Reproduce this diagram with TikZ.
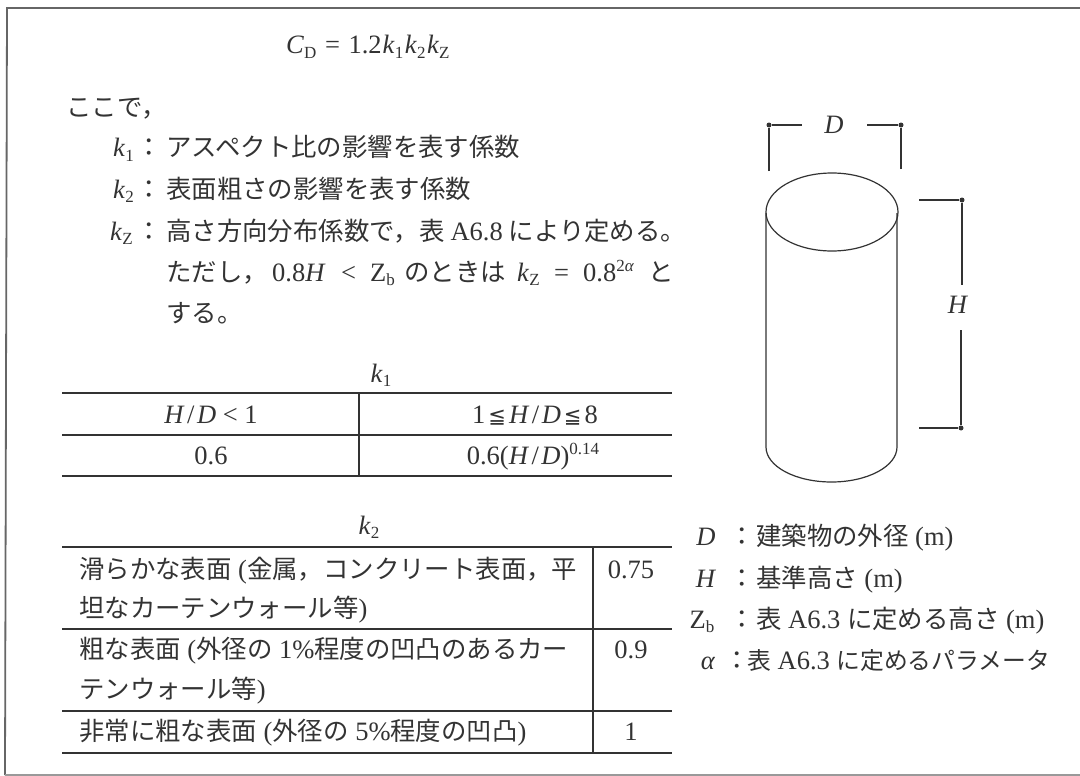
\documentclass[tikz,border=0pt]{standalone}
\usepackage{fontspec}
\setmainfont{Liberation Serif}
\newfontfamily\cjk{Noto Sans CJK JP}
\newfontfamily\djv{DejaVu Sans}
\newcommand{\J}[1]{{\cjk\fontsize{25.4}{28}\selectfont #1}}
\newcommand{\Jn}[1]{{\cjk\fontsize{23.8}{28}\selectfont #1}}
\newcommand{\sbs}[1]{\raisebox{-4.5pt}{\fontsize{17}{18}\selectfont #1}}
\newcommand{\sps}[1]{\raisebox{10pt}{\fontsize{17}{18}\selectfont #1}}
\newcommand{\kk}[1]{\textit{k}\sbs{#1}}
\newcommand{\hd}{\textit{H}\hspace{2.5pt}/\hspace{2.5pt}\textit{D}}
\newcommand{\lee}{\hspace{3pt}{\djv\fontsize{21}{24}\selectfont ≦}\hspace{3pt}}
\definecolor{ink}{HTML}{333333}
\tikzset{
  x=1pt,y=-1pt,
  txt/.style={inner sep=0pt,anchor=base west,text=ink,font=\fontsize{26.5}{28}\selectfont},
  ctr/.style={inner sep=0pt,anchor=base,text=ink,font=\fontsize{26.5}{28}\selectfont},
  rule/.style={draw=ink,line width=1.4pt},
  cell/.style={draw=ink,line width=1.1pt},
  fig/.style={draw=ink,line width=1.2pt},
  dotend/.style={circle,fill=ink,inner sep=0pt,minimum size=5pt},
  frameedge/.style={draw=black!60,line width=1.8pt},
  framelight/.style={draw=black!40,line width=1.4pt}
}
\begin{document}
\begin{tikzpicture}
\useasboundingbox (0,0) rectangle (1080,776);
\fill[white] (0,0) rectangle (1080,776);
% frame
\coordinate (fa) at (7,8); \coordinate (fb) at (1080,8);
\coordinate (fc) at (1080,775); \coordinate (fd) at (5,775);
\draw[frameedge] (fb) -- (fa) -- (fd);
\draw[framelight] (fd) -- (fc);
% formula
\node[txt] (f) at (286,54) {\textit{C}\sbs{D}\hspace{2pt} = \hspace{2pt}1.2\hspace{1pt}\kk{1}\hspace{1.5pt}\kk{2}\hspace{1.5pt}\kk{Z}};
\node[txt] (t0) at (66,117) {\J{ここで，}};
\node[txt] (t1) at (113,157) {\kk{1}};
\node[txt] (t2) at (113,198) {\kk{2}};
\node[txt] (t3) at (110,240) {\kk{Z}};
\node[txt] (c1) at (136,157) {\J{：}};
\node[txt] (c2) at (136,198) {\J{：}};
\node[txt] (c3) at (136,240) {\J{：}};
\node[txt] (l1) at (166,157) {\J{アスペクト比の影響を表す係数}};
\node[txt] (l2) at (166,198) {\J{表面粗さの影響を表す係数}};
\node[txt] (l3) at (166,240) {\J{高さ方向分布係数で，表}\hspace{6pt}A6.8\hspace{6pt}\J{により定める。}};
\node[txt] (l4a) at (166,281) {\J{ただし，}};
\node[txt] (l4b) at (272,281) {0.8\textit{H}};
\node[txt] (l4c) at (341,281) {<};
\node[txt] (l4d) at (370,281) {Z\sbs{b}};
\node[txt] (l4e) at (404,281) {\J{のときは}};
\node[txt] (l4f) at (517,281) {\kk{Z}};
\node[txt] (l4g) at (554,281) {=};
\node[txt] (l4h) at (583,281) {0.8\sps{2\textit{α}}};
\node[txt] (l4i) at (648,281) {\J{と}};
\node[txt] (l5) at (166,322) {\J{する。}};
% k1 table
\node[ctr] (k1) at (381,382) {\kk{1}};
\coordinate (a0) at (62,393); \coordinate (a0r) at (672,393);
\coordinate (a1) at (62,435); \coordinate (a1r) at (672,435);
\coordinate (a2) at (62,476); \coordinate (a2r) at (672,476);
\coordinate (av0) at (359,393); \coordinate (av1) at (359,476);
\draw[rule] (a0) -- (a0r);
\draw[rule] (a1) -- (a1r);
\draw[rule] (a2) -- (a2r);
\draw[cell] (av0) -- (av1);
\node[ctr] (h1) at (211,423) {\hd{} < 1};
\node[ctr] (h2) at (535,423) {1\lee\hd\lee 8};
\node[ctr] (v1) at (211,464) {0.6};
\node[ctr] (v2) at (533,464) {0.6(\hd)\sps{0.14}};
% k2 table
\node[ctr] (k2) at (369,534) {\kk{2}};
\coordinate (b0) at (62,547); \coordinate (b0r) at (672,547);
\coordinate (b1) at (62,629); \coordinate (b1r) at (672,629);
\coordinate (b2) at (62,711); \coordinate (b2r) at (672,711);
\coordinate (b3) at (62,753); \coordinate (b3r) at (672,753);
\coordinate (bv0) at (593,547); \coordinate (bv1) at (593,753);
\draw[rule] (b0) -- (b0r);
\draw[rule] (b1) -- (b1r);
\draw[rule] (b2) -- (b2r);
\draw[rule] (b3) -- (b3r);
\draw[cell] (bv0) -- (bv1);
\node[txt] (r1) at (79,578) {\J{滑らかな表面} (\J{金属，コンクリート表面，平}};
\node[txt] (r1b) at (79,617) {\J{坦なカーテンウォール等})};
\node[txt] (r2) at (79,658) {\J{粗な表面} (\J{外径の} 1\%\J{程度の凹凸のあるカー}};
\node[txt] (r2b) at (79,698) {\J{テンウォール等})};
\node[txt] (r3) at (79,740) {\J{非常に粗な表面} (\J{外径の} 5\%\J{程度の凹凸})};
\node[ctr] (n1) at (631,578) {0.75};
\node[ctr] (n2) at (631,658) {0.9};
\node[ctr] (n3) at (631,740) {1};
% cylinder
\draw[fig] (766,213) -- (766,447) arc[start angle=180,end angle=360,x radius=65.5,y radius=-35] -- (897,213);
\draw[fig] (832,212) ellipse[x radius=66,y radius=39];
% D dimension
\node[dotend] (dl) at (769,125) {};
\node[dotend] (dr) at (901,125) {};
\coordinate (dlb) at (769,171); \coordinate (drb) at (901,169);
\coordinate (dli) at (802,125); \coordinate (dri) at (867,125);
\draw[fig] (dlb) -- (dl) -- (dli);
\draw[fig] (drb) -- (dr) -- (dri);
\node[ctr] (D) at (834,133) {\textit{D}};
% H dimension
\node[dotend] (ht) at (962,200) {};
\node[dotend] (hb) at (961,428) {};
\coordinate (hti) at (919,200); \coordinate (hbi) at (919,428);
\coordinate (htg) at (962,285); \coordinate (hbg) at (961,330);
\draw[fig] (hti) -- (ht) -- (htg);
\draw[fig] (hbi) -- (hb) -- (hbg);
\node[ctr] (H) at (958,313) {\textit{H}};
% legend
\node[ctr] (ld) at (706,545) {\textit{D}};
\node[ctr] (lh) at (706,587) {\textit{H}};
\node[ctr] (lz) at (702,628) {Z\sbs{b}};
\node[ctr] (la) at (708,669) {\textit{α}};
\node[txt] (cd) at (729,545) {\J{：}};
\node[txt] (ch) at (729,587) {\J{：}};
\node[txt] (cz) at (729,628) {\J{：}};
\node[txt] (ca) at (724,669) {\J{：}};
\node[txt] (ld2) at (756,545) {\J{建築物の外径} (m)};
\node[txt] (lh2) at (756,587) {\J{基準高さ} (m)};
\node[txt] (lz2) at (756,628) {\J{表} A6.3 \J{に定める高さ} (m)};
\node[txt] (la2) at (747,669) {\Jn{表} A6.3 \Jn{に定めるパラメータ}};
\end{tikzpicture}
\end{document}
